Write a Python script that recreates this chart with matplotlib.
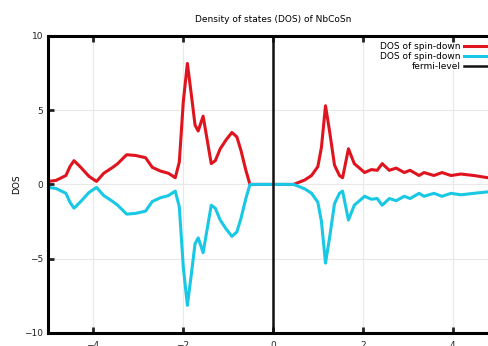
import numpy as np
import matplotlib.pyplot as plt

# energy (eV) and DOS values
energy = [-5.0, -4.82, -4.6, -4.51, -4.42, -4.27, -4.09, -3.92, -3.76, -3.56,
          -3.45, -3.25, -3.05, -2.83, -2.68, -2.5, -2.32, -2.17, -2.08, -1.99,
          -1.9, -1.81, -1.73, -1.66, -1.55, -1.46, -1.37, -1.28, -1.17, -1.04,
          -0.91, -0.8, -0.71, -0.6, -0.51, 0.0, 0.46, 0.71, 0.86, 1.0,
          1.08, 1.17, 1.26, 1.37, 1.48, 1.55, 1.68, 1.81, 2.04, 2.19,
          2.32, 2.43, 2.59, 2.74, 2.92, 3.05, 3.25, 3.36, 3.58, 3.76,
          3.96, 4.18, 4.47, 4.78, 5.0]
dos_up = [0.2, 0.27, 0.6, 1.2, 1.6, 1.15, 0.55, 0.2, 0.75, 1.15,
          1.4, 2.0, 1.95, 1.8, 1.15, 0.9, 0.75, 0.45, 1.5, 5.6,
          8.15, 6.0, 4.0, 3.6, 4.6, 3.0, 1.4, 1.6, 2.4, 3.0,
          3.5, 3.2, 2.3, 0.95, 0.0, 0.0, 0.0, 0.3, 0.6, 1.2,
          2.5, 5.3, 3.6, 1.3, 0.6, 0.45, 2.4, 1.4, 0.8, 1.0,
          0.95, 1.4, 0.95, 1.1, 0.8, 0.95, 0.6, 0.8, 0.6, 0.8,
          0.6, 0.7, 0.6, 0.45, 0.45]
dos_down = [-0.2, -0.27, -0.6, -1.2, -1.6, -1.15, -0.55, -0.2, -0.75, -1.15,
            -1.4, -2.0, -1.95, -1.8, -1.15, -0.9, -0.75, -0.45, -1.5, -5.6,
            -8.15, -6.0, -4.0, -3.6, -4.6, -3.0, -1.4, -1.6, -2.4, -3.0,
            -3.5, -3.2, -2.3, -0.95, 0.0, 0.0, 0.0, -0.3, -0.6, -1.2,
            -2.5, -5.3, -3.6, -1.3, -0.6, -0.45, -2.4, -1.4, -0.8, -1.0,
            -0.95, -1.4, -0.95, -1.1, -0.8, -0.95, -0.6, -0.8, -0.6, -0.8,
            -0.6, -0.7, -0.6, -0.5, -0.5]
xticks = [-4, -2, 0, 2, 4]
yticks = [-10, -5, 0, 5, 10]

fig = plt.figure(figsize=(4.89, 3.46), dpi=100)
ax = fig.add_axes([0.098, 0.038, 0.92, 0.858])

ax.plot(energy, dos_up, color='#e0141e', lw=2.2, label='DOS of spin-down')
ax.plot(energy, dos_down, color='#18c8e4', lw=2.2, label='DOS of spin-down')
ax.plot([0, 0], [-10, 10], color='#101010', lw=1.8, label='fermi-level')

ax.set_xlim(-5, 5)
ax.set_ylim(-10, 10)
ax.set_xticks(xticks)
ax.set_yticks(yticks)
ax.grid(True, color='#e8e8e8', lw=0.8)
ax.tick_params(direction='in', length=4, width=2, labelsize=6.5,
               colors='#222222', top=True, right=True)
ax.tick_params(axis='x', pad=6)
for s in ax.spines.values():
    s.set_linewidth(2.2)
ax.set_ylabel('DOS', fontsize=6.5, labelpad=2)
ax.set_title('Density of states (DOS) of NbCoSn', fontsize=6.5, pad=10)

ax.legend(loc='upper right', bbox_to_anchor=(1.0, 1.0), frameon=False,
          markerfirst=False, fontsize=6.5, handlelength=3.0,
          labelspacing=0.1, borderaxespad=0.3, handletextpad=0.4)

fig.savefig('out.png', dpi=100)
